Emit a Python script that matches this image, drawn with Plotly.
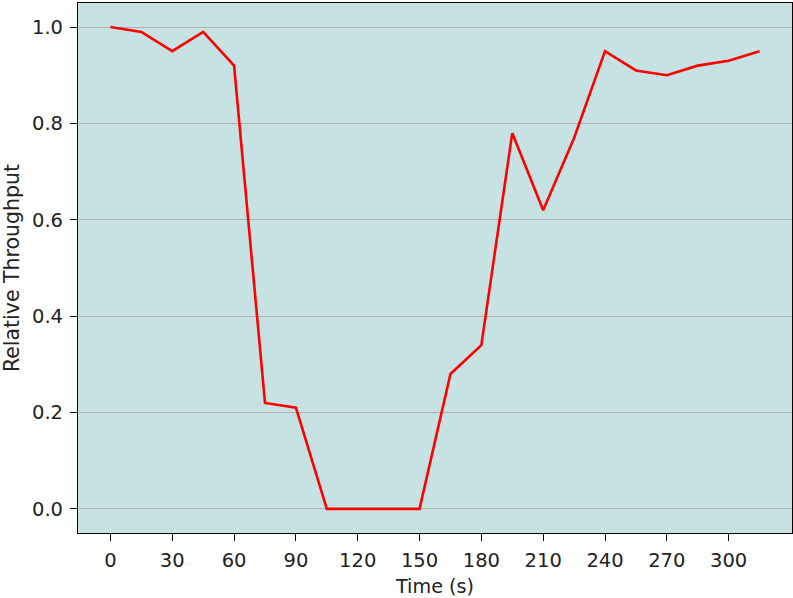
import plotly.graph_objects as go

time_s = [0, 15, 30, 45, 60, 75, 90, 105, 120, 135, 150, 165, 180, 195, 210, 225, 240, 255, 270, 285, 300, 315]
throughput = [1.0, 0.99, 0.95, 0.99, 0.92, 0.22, 0.21, 0.0, 0.0, 0.0, 0.0, 0.28, 0.34, 0.78, 0.62, 0.77, 0.95, 0.91, 0.90, 0.92, 0.93, 0.95]
x_ticks = [0, 30, 60, 90, 120, 150, 180, 210, 240, 270, 300]
y_ticks = [0.0, 0.2, 0.4, 0.6, 0.8, 1.0]

fig = go.Figure()
fig.add_trace(go.Scatter(x=time_s, y=throughput, mode="lines",
                         line=dict(color="red", width=2.6), showlegend=False,
                         hoverinfo="skip"))

tick_font = dict(family="DejaVu Sans", size=19.5, color="#222222")
xt_font = dict(family="DejaVu Sans", size=19.2, color="#222222")
yt_font = dict(family="DejaVu Sans", size=20.5, color="#222222")
fig.update_layout(
    width=793, height=598,
    margin=dict(l=78, r=1, t=3, b=65),
    paper_bgcolor="white",
    plot_bgcolor="#c6e2e3",
    font=tick_font,
    xaxis=dict(
        range=[-15.75, 330.75], tickvals=x_ticks, ticktext=[str(v) for v in x_ticks],
        showgrid=False, zeroline=False,
        showline=True, linecolor="black", linewidth=1.2, mirror=True,
        ticks="outside", ticklen=7, tickwidth=1.2, tickcolor="black",
        ticklabelstandoff=2, tickfont=tick_font,
        title=dict(text="Time (s)", font=xt_font, standoff=11),
    ),
    yaxis=dict(
        range=[-0.05, 1.05], tickvals=y_ticks, ticktext=[f"{v:.1f}" for v in y_ticks],
        showgrid=True, gridcolor="#b0b0b0", gridwidth=1.3, zeroline=False,
        showline=True, linecolor="black", linewidth=1.2, mirror=True,
        ticks="outside", ticklen=7, tickwidth=1.2, tickcolor="black",
        ticklabelstandoff=3, tickfont=tick_font,
        title=dict(text="Relative Throughput", font=yt_font, standoff=8),
    ),
)
fig.write_html("out.html", config={"displayModeBar": False},
               post_script="document.body.style.margin='0px';")
